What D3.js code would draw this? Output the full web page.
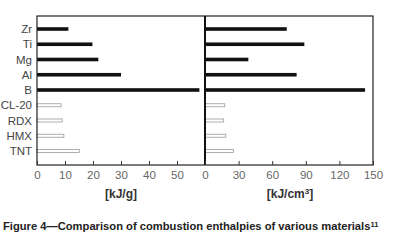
<!DOCTYPE html>
<html><head><meta charset="utf-8">
<script src="https://cdn.jsdelivr.net/npm/d3@7"></script>
<style>
body{margin:0;background:#fff;}
svg{display:block;font-family:"Liberation Sans",Arial,sans-serif;}
</style></head>
<body><svg id="c" width="398" height="247"></svg>
<script>
const categories = ["Zr","Ti","Mg","Al","B","CL-20","RDX","HMX","TNT"];
const metals = ["Zr","Ti","Mg","Al","B"];
const perGram = [11.2, 19.8, 21.9, 30, 58, 8.6, 9.0, 9.6, 15.1];
const perCm3 = [73, 88.7, 38.7, 81.8, 142.9, 17.6, 16.7, 18.5, 25.3];
const ticksLeft = [0,10,20,30,40,50];
const ticksRight = [0,30,60,90,120,150];
const unitLeft = "[kJ/g]";
const caption = "Figure 4\u2014Comparison of combustion enthalpies of various materials";
const captionSup = "11";

(function(){
const svg = d3.select("#c");
const yTop = 16, yBot = 165, x0 = 37, xm = 205, x1 = 373;
const y = d3.scalePoint().domain(categories).range([29, 151]);
const xl = d3.scaleLinear().domain([0,60]).range([x0, xm]);
const xr = d3.scaleLinear().domain([0,150]).range([xm, x1]);

function bars(scale, vals){
  svg.append("g").selectAll("rect").data(categories).join("rect")
    .attr("x", scale(0))
    .attr("y", d => metals.includes(d) ? y(d)-1.8 : y(d)-1.5)
    .attr("width", (d,i) => scale(vals[i]) - scale(0))
    .attr("height", d => metals.includes(d) ? 3.6 : 3)
    .attr("fill", d => metals.includes(d) ? "#111" : "#fff")
    .attr("stroke", d => metals.includes(d) ? "none" : "#999")
    .attr("stroke-width", 0.8);
}
bars(xl, perGram);
bars(xr, perCm3);

svg.append("rect").attr("x", x0).attr("y", yTop).attr("width", x1-x0).attr("height", yBot-yTop)
  .attr("fill","none").attr("stroke","#222").attr("stroke-width",1.2);
svg.append("line").attr("x1", xm).attr("x2", xm).attr("y1", yTop).attr("y2", yBot)
  .attr("stroke","#111").attr("stroke-width",2);

function axis(scale, ticks){
  const g = svg.append("g").attr("transform", `translate(0,${yBot})`)
    .call(d3.axisBottom(scale).tickValues(ticks).tickSize(-4).tickPadding(6).tickFormat(d3.format("d")));
  g.select(".domain").remove();
  g.selectAll(".tick line").attr("stroke","#333");
  g.selectAll(".tick text").attr("font-size", 11.5).attr("fill","#666").attr("font-family","Liberation Sans, Arial, sans-serif");
}
axis(xl, ticksLeft);
axis(xr, ticksRight);

svg.append("g").selectAll("text").data(categories).join("text")
  .attr("x", 32).attr("y", d => y(d)).attr("dy","0.35em")
  .attr("text-anchor","end").attr("font-size",11.5).attr("fill","#444").text(d => d);

svg.append("text").attr("x", 121).attr("y", 198).attr("text-anchor","middle")
  .attr("font-size",12).attr("font-weight","bold").attr("fill","#333").text(unitLeft);
const ur = svg.append("text").attr("x", 290).attr("y", 198).attr("text-anchor","middle")
  .attr("font-size",12).attr("font-weight","bold").attr("fill","#333");
ur.append("tspan").text("[kJ/cm");
ur.append("tspan").attr("font-size",8).attr("dy",-4.5).text("3");
ur.append("tspan").attr("dy",4.5).text("]");

const cap = svg.append("text").attr("x", 3).attr("y", 230)
  .attr("font-size",11.2).attr("font-weight","bold").attr("fill","#222")
  .attr("font-family","Liberation Sans Narrow, Liberation Sans, Arial, sans-serif");
cap.append("tspan").text(caption);
cap.append("tspan").attr("font-size",7.5).attr("dy",-3.5).text(captionSup);
})();
</script></body></html>
